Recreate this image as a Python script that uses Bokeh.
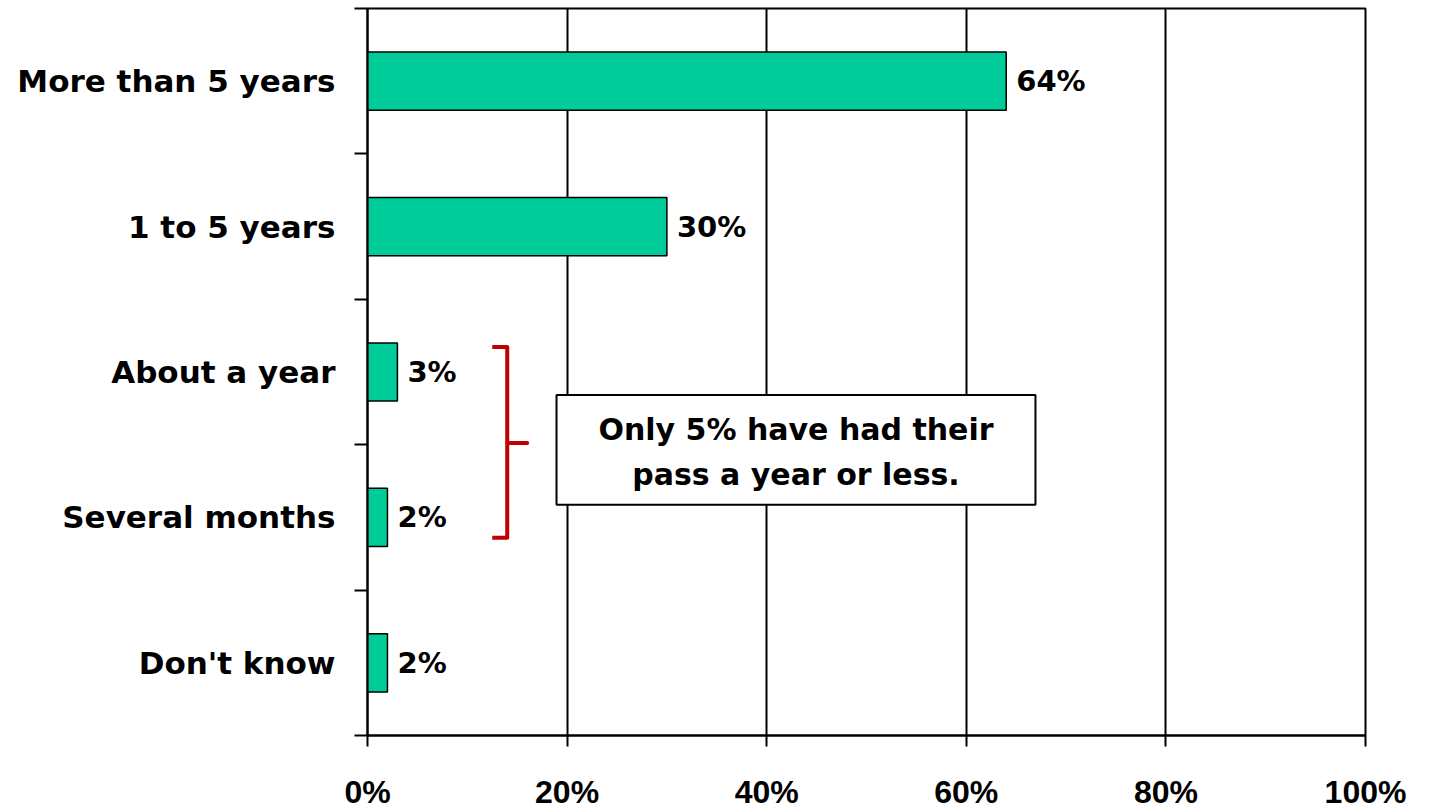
from bokeh.plotting import figure
from bokeh.models import Range1d, FixedTicker, ColumnDataSource
from bokeh.core.properties import value
from bokeh.embed import file_html
from bokeh.resources import INLINE

# Survey data: how long respondents have had their pass
categories = ["More than 5 years", "1 to 5 years", "About a year", "Several months", "Don't know"]
shares = [64, 30, 3, 2, 2]
x_ticks = [0, 20, 40, 60, 80, 100]
note_lines = ["Only 5% have had their", "pass a year or less."]

LABEL_FONT = "DejaVu Sans"
TICK_FONT = "Liberation Sans"
BAR_COLOR = "#00CC99"

n = len(categories)
centers = [n - i - 0.5 for i in range(n)]
bounds = list(range(n + 1))

src = ColumnDataSource(dict(
    y=centers,
    v=shares,
    lab=[f"{s}%" for s in shares],
))

p = figure(width=1430, height=812, output_backend="svg", toolbar_location=None,
           x_range=Range1d(0, 100), y_range=Range1d(0, n),
           min_border_left=367, min_border_right=65, min_border_top=8, min_border_bottom=76)
p.background_fill_color = "white"
p.border_fill_color = "white"
p.outline_line_color = "black"
p.outline_line_width = 2
p.outline_line_alpha = 1

p.hbar(y="y", left=0, right="v", height=0.4, source=src,
       fill_color=BAR_COLOR, line_color="black", line_width=1.5)

p.text(x="v", y="y", text="lab", source=src, x_offset=10,
       text_align="left", text_baseline="middle",
       text_font=value(LABEL_FONT), text_font_style="bold",
       text_font_size="29px", text_color="black")

# Callout box with a bracket grouping the two short-tenure bars
bx0, bx1, by0, by1 = 18.94, 66.93, 1.587, 2.342
p.quad(left=[bx0], right=[bx1], bottom=[by0], top=[by1],
       fill_color="white", line_color="black", line_width=2)
p.text(x=[(bx0 + bx1) / 2] * 2, y=[2.102, 1.793], text=note_lines,
       text_align="center", text_baseline="middle",
       text_font=value(LABEL_FONT), text_font_style="bold",
       text_font_size="30px", text_color="black")

p.line(x=[12.5, 14.0, 14.0, 16.0, 14.0, 14.0, 12.5],
       y=[2.672, 2.672, 2.012, 2.012, 2.012, 1.36, 1.36],
       line_color="#C00000", line_width=4, line_join="round")

# x axis
p.xaxis.ticker = FixedTicker(ticks=x_ticks, minor_ticks=[])
p.xaxis.major_label_overrides = {t: f"{t}%" for t in x_ticks}
p.xaxis.axis_line_color = "black"
p.xaxis.axis_line_width = 2
p.xaxis.major_tick_line_color = "black"
p.xaxis.major_tick_line_width = 2
p.xaxis.major_tick_in = 0
p.xaxis.major_tick_out = 11
p.xaxis.minor_tick_line_color = None
p.xaxis.major_label_standoff = 27
p.xaxis.major_label_text_font = TICK_FONT
p.xaxis.major_label_text_font_style = "bold"
p.xaxis.major_label_text_font_size = "32px"
p.xaxis.major_label_text_color = "black"

# y axis: labels at category centres, tick marks at category boundaries
p.yaxis.ticker = FixedTicker(ticks=centers, minor_ticks=bounds)
p.yaxis.major_label_overrides = {c: lab for c, lab in zip(centers, categories)}
p.yaxis.axis_line_color = "black"
p.yaxis.axis_line_width = 2
p.yaxis.major_tick_line_color = None
p.yaxis.major_tick_in = 0
p.yaxis.major_tick_out = 0
p.yaxis.minor_tick_line_color = "black"
p.yaxis.minor_tick_line_width = 2
p.yaxis.minor_tick_in = 0
p.yaxis.minor_tick_out = 13
p.yaxis.major_label_standoff = 19
p.yaxis.major_label_text_font = LABEL_FONT
p.yaxis.major_label_text_font_style = "bold"
p.yaxis.major_label_text_font_size = "31px"
p.yaxis.major_label_text_color = "black"

p.xgrid.ticker = FixedTicker(ticks=[20, 40, 60, 80])
p.xgrid.grid_line_color = "black"
p.xgrid.grid_line_width = 2
p.xgrid.grid_line_alpha = 1
p.ygrid.grid_line_color = None

open("out.html", "w").write(file_html(p, INLINE))
